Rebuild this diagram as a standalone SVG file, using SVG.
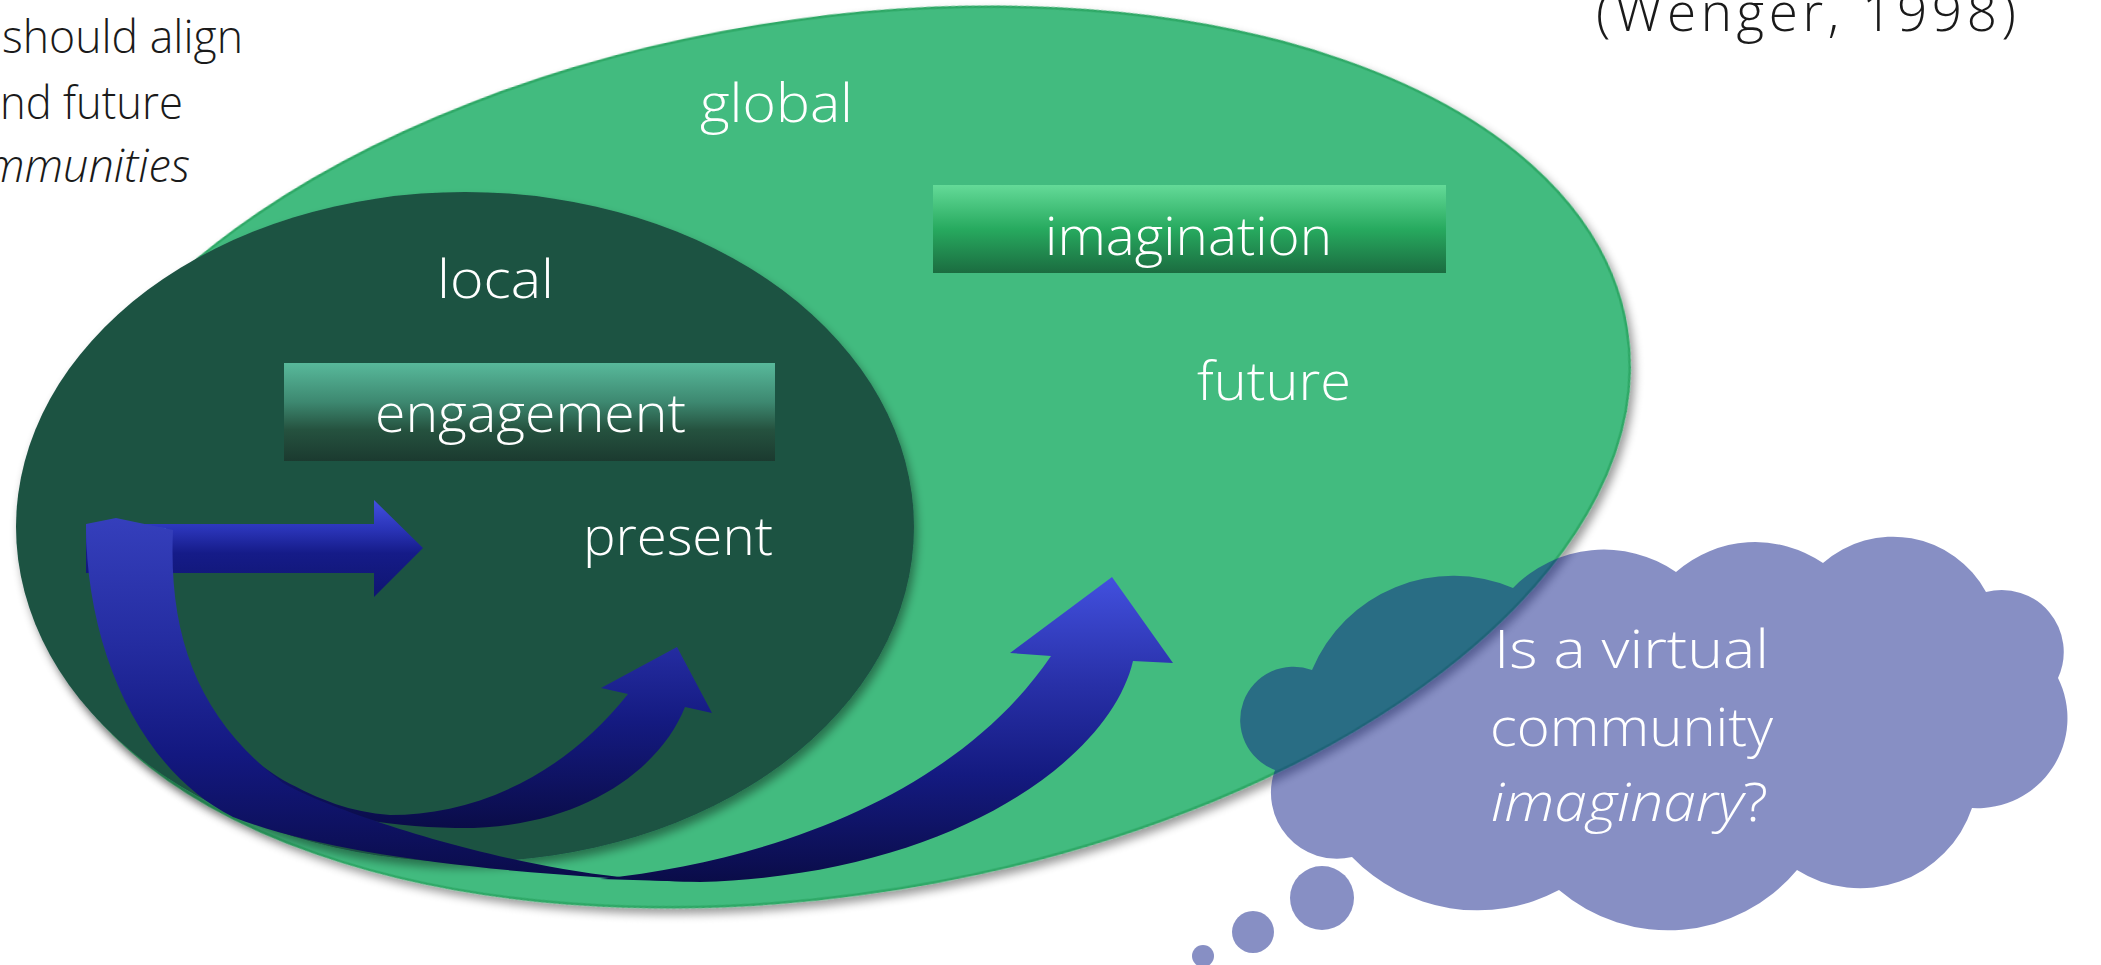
<svg xmlns="http://www.w3.org/2000/svg" width="2101" height="965" viewBox="0 0 2101 965">
  <style>
    .lbl { font-family: "Open Sans", "Liberation Sans", sans-serif; font-weight: 300; font-size: 53px; fill: #ffffff; }
    .side { font-family: "Open Sans", "Liberation Sans", sans-serif; font-weight: 300; font-size: 46px; fill: #1a1a1a; }
    .cite { font-family: "Open Sans", "Liberation Sans", sans-serif; font-weight: 300; font-size: 53px; fill: #1a1a1a; }
    .bubble { fill: #10208a; fill-opacity: 0.5; }
  </style>
  <defs>
    <filter id="shadow" x="-10%" y="-10%" width="125%" height="125%">
      <feGaussianBlur in="SourceAlpha" stdDeviation="5"/>
      <feOffset dx="3" dy="6" result="b"/>
      <feComponentTransfer><feFuncA type="linear" slope="0.4"/></feComponentTransfer>
      <feMerge><feMergeNode/><feMergeNode in="SourceGraphic"/></feMerge>
    </filter>
    <linearGradient id="gEng" x1="0" y1="0" x2="0" y2="1">
      <stop offset="0" stop-color="#58b99b"/>
      <stop offset="0.4" stop-color="#3d8870"/>
      <stop offset="0.68" stop-color="#25523f"/>
      <stop offset="1" stop-color="#1b3a2f"/>
    </linearGradient>
    <linearGradient id="gImg" x1="0" y1="0" x2="0" y2="1">
      <stop offset="0" stop-color="#64da98"/>
      <stop offset="0.5" stop-color="#27aa5f"/>
      <stop offset="1" stop-color="#1b6c40"/>
    </linearGradient>
    <linearGradient id="gStraight" x1="0" y1="0" x2="0" y2="1">
      <stop offset="0" stop-color="#4350e0"/>
      <stop offset="0.3" stop-color="#2a34b8"/>
      <stop offset="0.55" stop-color="#151b88"/>
      <stop offset="1" stop-color="#0f1570"/>
    </linearGradient>
    <linearGradient id="gCurve" x1="0" y1="0" x2="0" y2="1">
      <stop offset="0" stop-color="#4250de"/>
      <stop offset="0.35" stop-color="#2830a8"/>
      <stop offset="0.65" stop-color="#141a80"/>
      <stop offset="1" stop-color="#0a0c48"/>
    </linearGradient>
    <linearGradient id="gBack" x1="0" y1="0" x2="0" y2="1">
      <stop offset="0" stop-color="#353fbc"/>
      <stop offset="0.35" stop-color="#242ca0"/>
      <stop offset="0.65" stop-color="#131880"/>
      <stop offset="1" stop-color="#0a0c48"/>
    </linearGradient>
  </defs>

  <g id="caption-left">
    <text class="side" x="2" y="53" textLength="241" lengthAdjust="spacingAndGlyphs">should align</text>
    <text class="side" x="0" y="119" textLength="183" lengthAdjust="spacingAndGlyphs">nd future</text>
    <text class="side" x="-14" y="182" textLength="204" lengthAdjust="spacingAndGlyphs" font-style="italic">mmunities</text>
  </g>
  <g id="citation">
    <text class="cite" x="1596" y="31" textLength="420" lengthAdjust="spacing">(Wenger, 1998)</text>
  </g>

  <g id="global">
    <ellipse cx="830" cy="457" rx="807" ry="437" transform="rotate(-9.2 830 457)" fill="#42bb7f" stroke="#2ea866" stroke-width="2.5" filter="url(#shadow)"/>
    <text class="lbl" x="700" y="122" textLength="153" lengthAdjust="spacingAndGlyphs">global</text>
  </g>

  <g id="local">
    <ellipse cx="465" cy="527" rx="449" ry="335" fill="#1c5243" filter="url(#shadow)"/>
    <text class="lbl" x="437" y="298" textLength="117" lengthAdjust="spacingAndGlyphs">local</text>
  </g>

  <g id="engagement">
    <rect x="284" y="363" width="491" height="98" fill="url(#gEng)"/>
    <text class="lbl" x="375" y="432" textLength="311" lengthAdjust="spacingAndGlyphs">engagement</text>
  </g>

  <g id="imagination">
    <rect x="933" y="185" width="513" height="88" fill="url(#gImg)"/>
    <text class="lbl" x="1045" y="255" textLength="287" lengthAdjust="spacingAndGlyphs">imagination</text>
  </g>

  <g id="present">
    <text class="lbl" x="583" y="555" textLength="190" lengthAdjust="spacingAndGlyphs">present</text>
  </g>

  <g id="future">
    <text class="lbl" x="1197" y="400" textLength="154" lengthAdjust="spacingAndGlyphs">future</text>
  </g>

  <g id="connectors">
    <path id="arrow-straight" d="M86,524 L374,524 L374,500 L423,548 L374,597 L374,573 L86,573 Z" fill="url(#gStraight)"/>
    <path id="arrow-present" d="M120,526 L166,528 C162,640 200,730 283,780 C320,800 350,812 390,815 C470,815 560,780 628,694 L601,688 L677,647 L712,713 L685,707 C660,770 580,830 455,828 C350,826 250,800 180,740 C130,690 118,600 120,526 Z" fill="url(#gCurve)"/>
    <path id="arrow-future-back" d="M86,524 L116,518 L173,530 C168,640 200,720 283,783 C320,805 470,860 620,877 L700,882 C500,875 330,855 233,817 C140,770 86,650 86,524 Z" fill="url(#gBack)"/>
    <path id="arrow-future" d="M600,879 C780,860 960,790 1051,656 L1010,653 L1112,577 L1173,663 L1133,661 C1110,760 950,875 700,882 Z" fill="url(#gCurve)"/>
  </g>

  <g id="thought">
    <path class="bubble" d="M1312,670 A153,153 0 0 1 1513,588 A127,127 0 0 1 1676,572 A120,120 0 0 1 1823,563 A106,106 0 0 1 1986,592 A62,62 0 0 1 2058,678 A90,90 0 0 1 1972,808 A118,118 0 0 1 1797,870 A168,168 0 0 1 1559,890 A174,174 0 0 1 1352,857 A66,66 0 0 1 1275,770 A52,52 0 0 1 1312,670 Z"/>
    <circle class="bubble" cx="1322" cy="898" r="32"/>
    <circle class="bubble" cx="1253" cy="932" r="21"/>
    <circle class="bubble" cx="1203" cy="956" r="11"/>
    <text class="lbl" x="1494" y="668" textLength="275" lengthAdjust="spacingAndGlyphs">Is a virtual</text>
    <text class="lbl" x="1490" y="746" textLength="283" lengthAdjust="spacingAndGlyphs">community</text>
    <text class="lbl" x="1491" y="821" textLength="277" lengthAdjust="spacingAndGlyphs"><tspan font-style="italic">imaginary</tspan>?</text>
  </g>
</svg>
